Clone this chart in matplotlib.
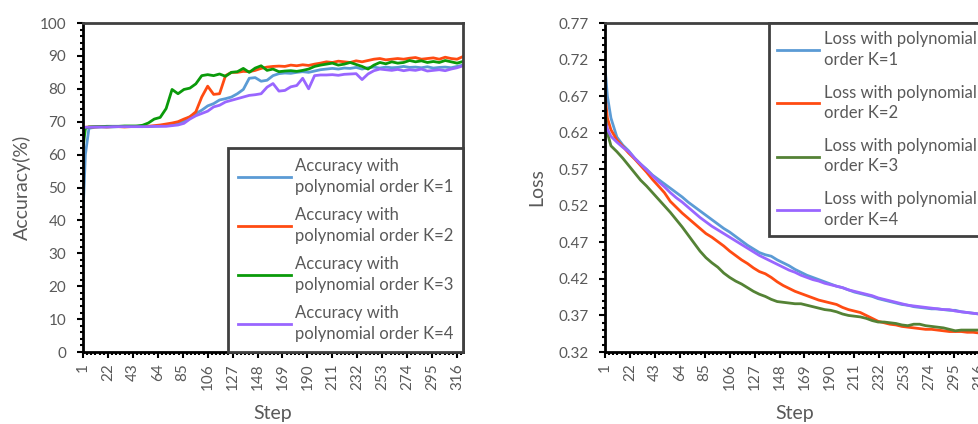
import numpy as np
import matplotlib
matplotlib.use('Agg')
from matplotlib import pyplot as plt
from matplotlib.ticker import FixedLocator, MultipleLocator

plt.rcParams['font.family'] = ['Lato', 'DejaVu Sans']

# sampled training steps (category positions)
steps = [1, 3] + list(range(6, 322, 5))

acc_k1 = [42.0, 60.0, 68.0, 68.3, 68.4, 68.4, 68.4, 68.5, 68.5, 68.5, 68.5, 68.5, 68.6, 68.6, 68.7, 68.8,
          69.0, 69.5, 70.2, 71.5, 72.5, 73.5, 74.8, 75.5, 76.6, 77.0, 77.5, 78.5, 79.8, 83.2, 83.4, 82.3,
          82.6, 84.0, 84.6, 84.8, 84.7, 85.0, 85.2, 85.0, 85.4, 85.8, 86.0, 86.2, 86.0, 86.3, 86.2, 86.5,
          86.0, 86.4, 86.6, 86.3, 86.6, 86.4, 86.5, 86.8, 86.5, 86.6, 86.4, 86.7, 86.3, 86.5, 86.6, 86.4,
          86.8, 87.2]
acc_k2 = [68.3, 68.3, 68.4, 68.4, 68.5, 68.4, 68.5, 68.5, 68.4, 68.5, 68.6, 68.5, 68.6, 68.8, 69.0, 69.3,
          69.6, 70.0, 70.8, 71.5, 73.0, 77.5, 80.8, 78.3, 78.5, 84.0, 85.0, 85.0, 85.3, 85.2, 85.6, 86.2,
          86.6, 86.8, 86.9, 86.8, 87.2, 87.0, 87.3, 87.1, 87.5, 87.8, 88.2, 88.0, 88.4, 88.2, 88.0, 88.5,
          88.2, 88.6, 89.0, 89.2, 88.8, 89.0, 89.2, 89.0, 89.3, 89.5, 89.0, 89.2, 89.4, 89.0, 89.6, 89.2,
          89.0, 89.8]
acc_k3 = [62.0, 68.0, 68.4, 68.5, 68.5, 68.6, 68.6, 68.6, 68.7, 68.7, 68.7, 68.9, 69.6, 70.8, 71.3, 74.0,
          79.8, 78.5, 79.8, 80.2, 81.5, 84.0, 84.3, 84.0, 84.5, 83.8, 85.0, 85.2, 86.2, 85.0, 86.3, 87.0,
          85.6, 86.0, 85.2, 85.4, 85.5, 85.3, 85.6, 86.0, 86.8, 87.2, 87.5, 87.8, 87.2, 87.5, 88.0, 87.4,
          86.8, 86.0, 87.2, 88.0, 87.6, 88.2, 87.8, 88.0, 88.6, 88.2, 88.5, 88.0, 88.3, 88.0, 88.6, 88.2,
          87.8, 88.3]
acc_k4 = [68.3, 68.3, 68.3, 68.4, 68.4, 68.4, 68.5, 68.5, 68.5, 68.5, 68.5, 68.5, 68.5, 68.6, 68.6, 68.6,
          68.8, 69.0, 69.5, 70.8, 71.8, 72.5, 73.2, 74.5, 75.0, 76.0, 76.5, 77.0, 77.5, 78.0, 78.2, 78.5,
          80.5, 81.6, 79.3, 79.5, 80.6, 81.0, 83.2, 80.0, 84.0, 84.2, 84.2, 84.3, 84.1, 84.4, 84.5, 84.6,
          82.8, 84.5, 85.5, 86.0, 85.8, 85.6, 85.9, 85.5, 85.8, 85.6, 86.0, 85.4, 85.6, 85.8, 85.5, 86.0,
          86.4, 87.0]

loss_k1 = [0.710, 0.670, 0.640, 0.614, 0.603, 0.595, 0.585, 0.577, 0.570, 0.562, 0.556, 0.550, 0.544, 0.538,
           0.532, 0.525, 0.519, 0.513, 0.507, 0.501, 0.495, 0.489, 0.484, 0.478, 0.472, 0.466, 0.461, 0.456,
           0.453, 0.451, 0.446, 0.442, 0.438, 0.433, 0.429, 0.425, 0.422, 0.419, 0.416, 0.413, 0.410, 0.408,
           0.405, 0.402, 0.400, 0.398, 0.396, 0.393, 0.391, 0.389, 0.387, 0.385, 0.384, 0.382, 0.381, 0.380,
           0.379, 0.379, 0.378, 0.377, 0.377, 0.375, 0.374, 0.373, 0.372, 0.371]
loss_k2 = [0.672, 0.640, 0.624, 0.610, 0.601, 0.592, 0.584, 0.575, 0.566, 0.556, 0.547, 0.538, 0.526, 0.518,
           0.510, 0.503, 0.496, 0.489, 0.482, 0.477, 0.471, 0.465, 0.458, 0.452, 0.446, 0.441, 0.435, 0.430,
           0.427, 0.422, 0.416, 0.411, 0.407, 0.403, 0.400, 0.397, 0.394, 0.391, 0.389, 0.387, 0.385, 0.381,
           0.378, 0.376, 0.374, 0.370, 0.366, 0.362, 0.360, 0.358, 0.357, 0.355, 0.354, 0.353, 0.352, 0.351,
           0.351, 0.350, 0.349, 0.348, 0.348, 0.348, 0.347, 0.347, 0.346, 0.346]
loss_k3 = [0.651, 0.620, 0.602, 0.594, 0.585, 0.575, 0.565, 0.555, 0.547, 0.538, 0.529, 0.520, 0.511, 0.501,
           0.491, 0.480, 0.469, 0.458, 0.449, 0.442, 0.436, 0.428, 0.422, 0.417, 0.413, 0.408, 0.403, 0.399,
           0.396, 0.392, 0.389, 0.388, 0.387, 0.386, 0.386, 0.384, 0.382, 0.380, 0.378, 0.377, 0.375, 0.372,
           0.370, 0.369, 0.368, 0.366, 0.363, 0.361, 0.361, 0.360, 0.359, 0.357, 0.356, 0.358, 0.358, 0.356,
           0.355, 0.354, 0.353, 0.351, 0.349, 0.350, 0.350, 0.350, 0.350, 0.350]
loss_k4 = [0.637, 0.625, 0.615, 0.607, 0.600, 0.594, 0.585, 0.577, 0.569, 0.561, 0.553, 0.546, 0.538, 0.531,
           0.525, 0.518, 0.511, 0.504, 0.498, 0.492, 0.487, 0.482, 0.477, 0.472, 0.467, 0.462, 0.457, 0.452,
           0.448, 0.444, 0.440, 0.436, 0.432, 0.429, 0.425, 0.422, 0.419, 0.417, 0.414, 0.412, 0.410, 0.408,
           0.405, 0.403, 0.401, 0.399, 0.397, 0.394, 0.392, 0.390, 0.388, 0.386, 0.384, 0.383, 0.382, 0.381,
           0.380, 0.379, 0.378, 0.378, 0.376, 0.375, 0.374, 0.373, 0.372, 0.371]

step_labels = list(range(1, 322, 21))
acc_labels = ['Accuracy with\npolynomial order K=%d' % k for k in range(1, 5)]
loss_labels = ['Loss with polynomial\norder K=%d' % k for k in range(1, 5)]

acc_colors = ['#5B9BD5', '#FF4B12', '#0A9A0A', '#9966FF']
loss_colors = ['#5B9BD5', '#FF4B12', '#548235', '#9966FF']
text_color = '#595959'

W, H = 979, 424
fig = plt.figure(figsize=(W / 100, H / 100), dpi=100)
ax1 = fig.add_axes([83 / W, 1 - 352 / H, 380 / W, 329 / H])
ax2 = fig.add_axes([605 / W, 1 - 352 / H, 380 / W, 329 / H])


def style_axes(ax):
    for side in ['left', 'bottom']:
        ax.spines[side].set_color('black')
        ax.spines[side].set_linewidth(2)
    for side in ['top', 'right']:
        ax.spines[side].set_color('#404040')
        ax.spines[side].set_linewidth(2)
    ax.set_xlim(1, 321)
    ax.xaxis.set_major_locator(FixedLocator(step_labels))
    ax.xaxis.set_minor_locator(FixedLocator(np.arange(1, 322, 3.5)))
    ax.set_xticklabels([str(s) for s in step_labels], rotation=90)
    ax.tick_params(which='both', direction='out', color='black', width=1.5,
                   labelcolor=text_color, labelsize=11)
    ax.tick_params(which='major', length=4)
    ax.tick_params(which='minor', length=2.5)
    ax.tick_params(axis='x', pad=4)
    ax.tick_params(axis='y', pad=8)
    ax.set_xlabel('Step', color=text_color, fontsize=14, labelpad=11)


def style_legend(leg):
    leg.get_frame().set_edgecolor('#404040')
    leg.get_frame().set_linewidth(2)
    for t in leg.get_texts():
        t.set_color(text_color)
        t.set_linespacing(1.35)


for vals, lab, col in zip([acc_k1, acc_k2, acc_k3, acc_k4], acc_labels, acc_colors):
    ax1.plot(steps, vals, color=col, lw=2, label=lab)
style_axes(ax1)
ax1.set_ylim(0, 100)
ax1.yaxis.set_major_locator(MultipleLocator(10))
ax1.yaxis.set_minor_locator(MultipleLocator(2))
ax1.set_ylabel('Accuracy(%)', color=text_color, fontsize=14, labelpad=6)
leg1 = ax1.legend(loc='lower right', bbox_to_anchor=(1, 0), borderaxespad=0, fancybox=False,
                  fontsize=12, handlelength=3.2, handletextpad=0.2, labelspacing=0.75,
                  borderpad=0.6, framealpha=1)
style_legend(leg1)

for vals, lab, col in zip([loss_k1, loss_k2, loss_k3, loss_k4], loss_labels, loss_colors):
    ax2.plot(steps, vals, color=col, lw=2, label=lab)
style_axes(ax2)
ax2.set_ylim(0.32, 0.77)
ax2.set_yticks(np.arange(0.32, 0.771, 0.05))
ax2.yaxis.set_minor_locator(MultipleLocator(0.01))
ax2.yaxis.set_major_formatter(plt.FuncFormatter(lambda v, p: '%.2f' % v))
ax2.set_ylabel('Loss', color=text_color, fontsize=14, labelpad=9)
leg2 = ax2.legend(loc='upper right', bbox_to_anchor=(1, 1), borderaxespad=0, fancybox=False,
                  fontsize=12, handlelength=2.5, handletextpad=0.3, labelspacing=1.0,
                  borderpad=0.5, framealpha=1)
style_legend(leg2)

fig.savefig('out.png', dpi=100)
